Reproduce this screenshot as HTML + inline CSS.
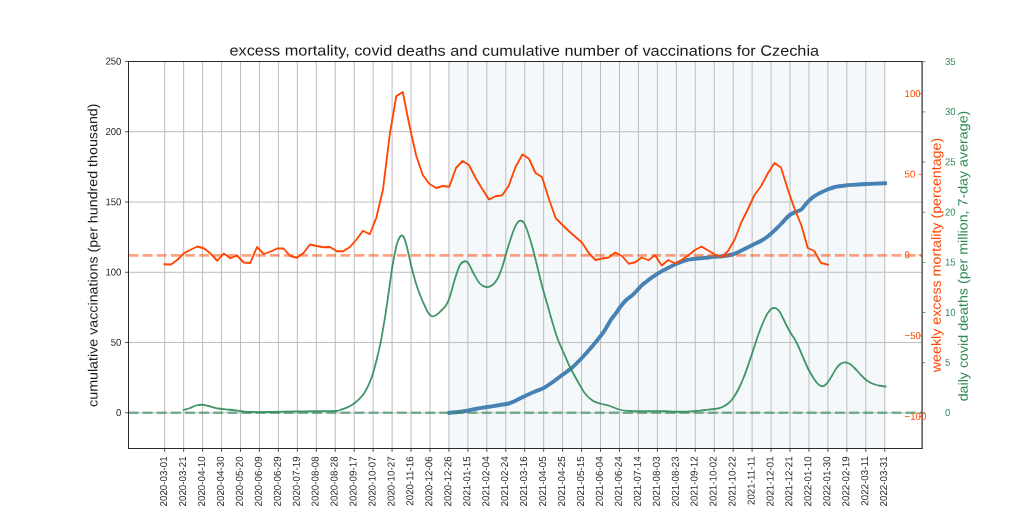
<!DOCTYPE html>
<html><head><meta charset="utf-8"><title>excess mortality, covid deaths and cumulative number of vaccinations for Czechia</title>
<style>html,body{margin:0;padding:0;background:#fff;}body{width:1024px;height:512px;overflow:hidden;font-family:"Liberation Sans",sans-serif;}svg{display:block;}text{font-family:"Liberation Sans",sans-serif;}</style></head><body>
<svg style="will-change:transform" width="1024" height="512" viewBox="0 0 1024 512">
<rect x="0" y="0" width="1024" height="512" fill="#ffffff"/>
<rect x="448.94" y="61.50" width="435.83" height="387.00" fill="#4682b4" fill-opacity="0.055"/>
<g stroke="#bcbcbc" stroke-width="1.00" fill="none">
<line x1="164.70" y1="61.50" x2="164.70" y2="448.50"/>
<line x1="183.65" y1="61.50" x2="183.65" y2="448.50"/>
<line x1="202.60" y1="61.50" x2="202.60" y2="448.50"/>
<line x1="221.55" y1="61.50" x2="221.55" y2="448.50"/>
<line x1="240.50" y1="61.50" x2="240.50" y2="448.50"/>
<line x1="259.44" y1="61.50" x2="259.44" y2="448.50"/>
<line x1="278.39" y1="61.50" x2="278.39" y2="448.50"/>
<line x1="297.34" y1="61.50" x2="297.34" y2="448.50"/>
<line x1="316.29" y1="61.50" x2="316.29" y2="448.50"/>
<line x1="335.24" y1="61.50" x2="335.24" y2="448.50"/>
<line x1="354.19" y1="61.50" x2="354.19" y2="448.50"/>
<line x1="373.14" y1="61.50" x2="373.14" y2="448.50"/>
<line x1="392.09" y1="61.50" x2="392.09" y2="448.50"/>
<line x1="411.04" y1="61.50" x2="411.04" y2="448.50"/>
<line x1="429.99" y1="61.50" x2="429.99" y2="448.50"/>
<line x1="448.94" y1="61.50" x2="448.94" y2="448.50"/>
<line x1="467.88" y1="61.50" x2="467.88" y2="448.50"/>
<line x1="486.83" y1="61.50" x2="486.83" y2="448.50"/>
<line x1="505.78" y1="61.50" x2="505.78" y2="448.50"/>
<line x1="524.73" y1="61.50" x2="524.73" y2="448.50"/>
<line x1="543.68" y1="61.50" x2="543.68" y2="448.50"/>
<line x1="562.63" y1="61.50" x2="562.63" y2="448.50"/>
<line x1="581.58" y1="61.50" x2="581.58" y2="448.50"/>
<line x1="600.53" y1="61.50" x2="600.53" y2="448.50"/>
<line x1="619.48" y1="61.50" x2="619.48" y2="448.50"/>
<line x1="638.42" y1="61.50" x2="638.42" y2="448.50"/>
<line x1="657.37" y1="61.50" x2="657.37" y2="448.50"/>
<line x1="676.32" y1="61.50" x2="676.32" y2="448.50"/>
<line x1="695.27" y1="61.50" x2="695.27" y2="448.50"/>
<line x1="714.22" y1="61.50" x2="714.22" y2="448.50"/>
<line x1="733.17" y1="61.50" x2="733.17" y2="448.50"/>
<line x1="752.12" y1="61.50" x2="752.12" y2="448.50"/>
<line x1="771.07" y1="61.50" x2="771.07" y2="448.50"/>
<line x1="790.02" y1="61.50" x2="790.02" y2="448.50"/>
<line x1="808.97" y1="61.50" x2="808.97" y2="448.50"/>
<line x1="827.91" y1="61.50" x2="827.91" y2="448.50"/>
<line x1="846.86" y1="61.50" x2="846.86" y2="448.50"/>
<line x1="865.81" y1="61.50" x2="865.81" y2="448.50"/>
<line x1="884.76" y1="61.50" x2="884.76" y2="448.50"/>
<line x1="128.50" y1="412.82" x2="922.10" y2="412.82"/>
<line x1="128.50" y1="342.55" x2="922.10" y2="342.55"/>
<line x1="128.50" y1="272.27" x2="922.10" y2="272.27"/>
<line x1="128.50" y1="202.00" x2="922.10" y2="202.00"/>
<line x1="128.50" y1="131.73" x2="922.10" y2="131.73"/>
</g>
<defs><clipPath id="ax"><rect x="128.50" y="61.50" width="793.60" height="387.00"/></clipPath></defs>
<g clip-path="url(#ax)" fill="none">
<path d="M449.50,412.75 C451.67,412.54 458.25,412.12 462.50,411.50 C466.75,410.88 470.83,409.75 475.00,409.00 C479.17,408.25 483.33,407.67 487.50,407.00 C491.67,406.33 496.46,405.58 500.00,405.00 C503.54,404.42 506.25,404.17 508.75,403.50 C511.25,402.83 512.29,402.25 515.00,401.00 C517.71,399.75 521.67,397.58 525.00,396.00 C528.33,394.42 531.88,392.83 535.00,391.50 C538.12,390.17 540.83,389.54 543.75,388.00 C546.67,386.46 549.38,384.46 552.50,382.25 C555.62,380.04 559.17,377.25 562.50,374.75 C565.83,372.25 569.17,370.17 572.50,367.25 C575.83,364.33 579.17,360.79 582.50,357.25 C585.83,353.71 589.17,349.96 592.50,346.00 C595.83,342.04 600.23,336.50 602.50,333.50 C604.77,330.50 604.73,330.23 606.10,328.00 C607.47,325.77 608.98,322.67 610.70,320.10 C612.42,317.53 614.68,314.95 616.40,312.60 C618.12,310.25 619.28,308.18 621.00,306.00 C622.72,303.82 624.82,301.28 626.70,299.50 C628.58,297.72 630.58,296.80 632.30,295.30 C634.02,293.80 635.43,292.15 637.00,290.50 C638.57,288.85 640.15,286.87 641.70,285.40 C643.25,283.93 644.58,283.03 646.30,281.70 C648.02,280.37 650.12,278.75 652.00,277.40 C653.88,276.05 655.73,274.77 657.60,273.60 C659.47,272.43 661.33,271.40 663.20,270.40 C665.07,269.40 666.77,268.63 668.80,267.60 C670.83,266.57 673.20,265.20 675.40,264.20 C677.60,263.20 679.82,262.35 682.00,261.60 C684.18,260.85 686.32,260.17 688.50,259.70 C690.68,259.23 692.45,259.10 695.10,258.80 C697.75,258.50 701.28,258.22 704.40,257.90 C707.52,257.58 710.87,257.18 713.80,256.90 C716.73,256.62 718.88,256.60 722.00,256.20 C725.12,255.80 729.50,255.32 732.50,254.50 C735.50,253.68 737.50,252.42 740.00,251.25 C742.50,250.08 745.00,248.75 747.50,247.50 C750.00,246.25 752.71,244.88 755.00,243.75 C757.29,242.62 759.08,242.00 761.25,240.75 C763.42,239.50 765.71,238.04 768.00,236.25 C770.29,234.46 772.79,232.08 775.00,230.00 C777.21,227.92 779.17,225.92 781.25,223.75 C783.33,221.58 785.83,218.62 787.50,217.00 C789.17,215.38 789.92,214.83 791.25,214.00 C792.58,213.17 793.83,212.75 795.50,212.00 C797.17,211.25 799.67,210.67 801.25,209.50 C802.83,208.33 803.12,207.00 805.00,205.00 C806.88,203.00 810.00,199.50 812.50,197.50 C815.00,195.50 817.50,194.33 820.00,193.00 C822.50,191.67 825.00,190.50 827.50,189.50 C830.00,188.50 832.08,187.67 835.00,187.00 C837.92,186.33 841.67,185.88 845.00,185.50 C848.33,185.12 851.25,185.00 855.00,184.75 C858.75,184.50 862.50,184.25 867.50,184.00 C872.50,183.75 882.08,183.38 885.00,183.25" stroke="#4682b4" stroke-width="3.9" stroke-linejoin="round" stroke-linecap="square"/>
<path d="M164.50,264.25 L171.00,264.50 L177.75,259.50 L184.25,253.00 L191.00,249.50 L197.50,246.50 L204.25,248.50 L210.75,253.75 L217.25,260.75 L223.75,253.50 L230.50,258.25 L237.00,255.50 L243.75,262.50 L250.25,263.00 L257.00,247.00 L263.75,254.00 L270.25,251.75 L277.00,248.50 L283.50,248.50 L290.25,256.00 L296.75,257.75 L303.50,253.00 L310.00,244.50 L316.75,246.00 L323.25,247.25 L330.00,247.00 L336.75,251.25 L343.25,251.25 L350.00,247.00 L356.50,239.50 L363.00,230.75 L369.75,234.25 L376.25,218.00 L383.00,189.50 L389.75,134.50 L396.25,96.25 L402.75,92.00 L409.50,125.75 L416.25,155.75 L422.75,175.00 L429.50,184.00 L436.25,188.00 L442.75,186.00 L449.25,186.75 L456.00,168.00 L462.50,161.00 L469.00,165.00 L475.75,178.25 L482.25,189.00 L489.00,199.50 L495.50,196.25 L502.25,195.25 L508.75,185.75 L515.50,167.00 L522.50,154.50 L529.00,158.75 L535.50,173.00 L542.00,177.00 L549.25,200.00 L555.75,218.25 L562.50,225.00 L569.00,231.25 L575.50,237.00 L582.00,242.50 L588.75,253.00 L595.50,260.00 L602.00,258.50 L608.75,257.50 L615.25,252.50 L622.00,256.00 L628.75,263.75 L635.25,262.25 L641.75,257.50 L648.50,260.25 L655.00,255.25 L661.75,265.50 L668.25,260.00 L675.00,263.50 L681.50,260.00 L688.25,255.50 L695.00,250.00 L701.50,246.50 L708.25,250.50 L714.75,254.50 L721.50,257.00 L728.00,251.00 L734.50,240.00 L741.25,222.50 L747.75,209.50 L754.50,195.00 L761.00,186.25 L767.75,173.50 L774.50,163.10 L781.00,167.50 L788.00,190.00 L794.50,208.75 L801.25,225.00 L807.75,248.00 L814.25,251.00 L821.00,263.00 L828.00,264.75" stroke="#ff4500" stroke-width="1.85" stroke-linejoin="round" stroke-linecap="square"/>
<line x1="128.50" y1="255.35" x2="922.10" y2="255.35" stroke="#ff4500" stroke-opacity="0.5" stroke-width="2.7" stroke-dasharray="9.87 4.26"/>
<path d="M183.75,410.00 C184.79,409.67 187.92,408.75 190.00,408.00 C192.08,407.25 194.25,406.04 196.25,405.50 C198.25,404.96 200.12,404.71 202.00,404.75 C203.88,404.79 205.54,405.29 207.50,405.75 C209.46,406.21 211.67,407.00 213.75,407.50 C215.83,408.00 217.29,408.38 220.00,408.75 C222.71,409.12 226.67,409.38 230.00,409.75 C233.33,410.12 236.67,410.62 240.00,411.00 C243.33,411.38 245.00,411.83 250.00,412.00 C255.00,412.17 262.50,412.08 270.00,412.00 C277.50,411.92 286.67,411.62 295.00,411.50 C303.33,411.38 313.17,411.33 320.00,411.25 C326.83,411.17 332.55,411.25 336.00,411.00 C339.45,410.75 339.13,410.22 340.70,409.75 C342.27,409.28 343.83,408.82 345.40,408.20 C346.97,407.57 348.60,406.83 350.10,406.00 C351.60,405.17 352.85,404.40 354.40,403.20 C355.95,402.00 357.72,400.53 359.40,398.80 C361.08,397.07 362.83,395.42 364.50,392.80 C366.17,390.18 368.00,386.28 369.40,383.10 C370.80,379.92 371.93,376.63 372.90,373.70 C373.87,370.77 374.43,368.42 375.20,365.50 C375.97,362.58 376.60,360.02 377.50,356.20 C378.40,352.38 379.62,347.48 380.60,342.60 C381.58,337.72 382.55,331.87 383.40,326.90 C384.25,321.93 384.92,317.88 385.70,312.80 C386.48,307.72 387.33,301.70 388.10,296.40 C388.87,291.10 389.65,285.61 390.30,281.00 C390.95,276.39 391.30,273.08 392.00,268.75 C392.70,264.42 393.67,259.17 394.50,255.00 C395.33,250.83 396.17,246.67 397.00,243.75 C397.83,240.83 398.75,238.88 399.50,237.50 C400.25,236.12 400.79,235.58 401.50,235.50 C402.21,235.42 403.04,235.83 403.75,237.00 C404.46,238.17 405.00,239.92 405.75,242.50 C406.50,245.08 407.42,248.96 408.25,252.50 C409.08,256.04 409.92,260.21 410.75,263.75 C411.58,267.29 412.38,270.46 413.25,273.75 C414.12,277.04 414.96,280.21 416.00,283.50 C417.04,286.79 418.33,290.42 419.50,293.50 C420.67,296.58 421.58,298.83 423.00,302.00 C424.42,305.17 426.50,310.12 428.00,312.50 C429.50,314.88 430.62,315.83 432.00,316.25 C433.38,316.67 434.71,315.96 436.25,315.00 C437.79,314.04 439.58,312.17 441.25,310.50 C442.92,308.83 444.79,307.38 446.25,305.00 C447.71,302.62 448.54,300.62 450.00,296.25 C451.46,291.88 453.33,283.96 455.00,278.75 C456.67,273.54 458.33,267.92 460.00,265.00 C461.67,262.08 463.54,261.46 465.00,261.25 C466.46,261.04 467.29,261.67 468.75,263.75 C470.21,265.83 471.88,270.42 473.75,273.75 C475.62,277.08 477.92,281.54 480.00,283.75 C482.08,285.96 484.17,286.79 486.25,287.00 C488.33,287.21 490.62,286.38 492.50,285.00 C494.38,283.62 495.83,281.88 497.50,278.75 C499.17,275.62 500.83,271.25 502.50,266.25 C504.17,261.25 505.62,254.79 507.50,248.75 C509.38,242.71 512.08,234.38 513.75,230.00 C515.42,225.62 516.33,224.04 517.50,222.50 C518.67,220.96 519.71,220.75 520.75,220.75 C521.79,220.75 522.62,220.75 523.75,222.50 C524.88,224.25 526.04,227.08 527.50,231.25 C528.96,235.42 530.83,241.46 532.50,247.50 C534.17,253.54 535.83,260.83 537.50,267.50 C539.17,274.17 540.83,281.25 542.50,287.50 C544.17,293.75 545.83,299.17 547.50,305.00 C549.17,310.83 550.83,316.92 552.50,322.50 C554.17,328.08 555.42,332.92 557.50,338.50 C559.58,344.08 562.92,351.21 565.00,356.00 C567.08,360.79 567.92,363.08 570.00,367.25 C572.08,371.42 575.00,376.62 577.50,381.00 C580.00,385.38 582.50,390.25 585.00,393.50 C587.50,396.75 590.00,398.83 592.50,400.50 C595.00,402.17 597.08,402.58 600.00,403.50 C602.92,404.42 606.67,404.96 610.00,406.00 C613.33,407.04 616.67,408.92 620.00,409.75 C623.33,410.58 626.67,410.75 630.00,411.00 C633.33,411.25 634.17,411.21 640.00,411.25 C645.83,411.29 658.33,411.17 665.00,411.25 C671.67,411.33 675.00,411.79 680.00,411.75 C685.00,411.71 690.83,411.29 695.00,411.00 C699.17,410.71 701.67,410.33 705.00,410.00 C708.33,409.67 712.08,409.50 715.00,409.00 C717.92,408.50 720.21,408.00 722.50,407.00 C724.79,406.00 726.88,404.62 728.75,403.00 C730.62,401.38 732.08,399.67 733.75,397.25 C735.42,394.83 737.08,391.83 738.75,388.50 C740.42,385.17 742.08,381.42 743.75,377.25 C745.42,373.08 747.08,368.29 748.75,363.50 C750.42,358.71 752.08,353.50 753.75,348.50 C755.42,343.50 757.08,338.08 758.75,333.50 C760.42,328.92 762.29,324.33 763.75,321.00 C765.21,317.67 766.25,315.50 767.50,313.50 C768.75,311.50 770.21,309.92 771.25,309.00 C772.29,308.08 772.92,308.08 773.75,308.00 C774.58,307.92 775.21,307.79 776.25,308.50 C777.29,309.21 778.75,310.38 780.00,312.25 C781.25,314.12 782.50,317.25 783.75,319.75 C785.00,322.25 786.25,324.88 787.50,327.25 C788.75,329.62 790.00,331.92 791.25,334.00 C792.50,336.08 793.75,337.54 795.00,339.75 C796.25,341.96 797.50,344.54 798.75,347.25 C800.00,349.96 801.25,353.08 802.50,356.00 C803.75,358.92 805.00,362.04 806.25,364.75 C807.50,367.46 808.75,369.96 810.00,372.25 C811.25,374.54 812.50,376.62 813.75,378.50 C815.00,380.38 816.46,382.33 817.50,383.50 C818.54,384.67 819.17,385.04 820.00,385.50 C820.83,385.96 821.67,386.29 822.50,386.25 C823.33,386.21 823.96,386.12 825.00,385.25 C826.04,384.38 827.50,382.75 828.75,381.00 C830.00,379.25 831.25,376.83 832.50,374.75 C833.75,372.67 835.00,370.25 836.25,368.50 C837.50,366.75 838.75,365.25 840.00,364.25 C841.25,363.25 842.71,362.79 843.75,362.50 C844.79,362.21 845.21,362.25 846.25,362.50 C847.29,362.75 848.54,363.00 850.00,364.00 C851.46,365.00 853.33,366.83 855.00,368.50 C856.67,370.17 858.33,372.25 860.00,374.00 C861.67,375.75 863.33,377.58 865.00,379.00 C866.67,380.42 868.33,381.58 870.00,382.50 C871.67,383.42 873.33,383.96 875.00,384.50 C876.67,385.04 878.25,385.42 880.00,385.75 C881.75,386.08 884.58,386.38 885.50,386.50" stroke="#2e8b57" stroke-opacity="0.9" stroke-width="1.8" stroke-linejoin="round" stroke-linecap="square"/>
<line x1="128.50" y1="412.70" x2="922.10" y2="412.70" stroke="#2e8b57" stroke-opacity="0.6" stroke-width="2.6" stroke-dasharray="9.87 4.26"/>
</g>
<g stroke="#2a2a2a" stroke-width="1" stroke-linecap="square" fill="none">
<line x1="128.50" y1="61.50" x2="128.50" y2="448.50"/>
<line x1="128.50" y1="61.50" x2="922.10" y2="61.50"/>
<line x1="128.50" y1="448.50" x2="922.10" y2="448.50"/>
<line x1="922.10" y1="61.50" x2="922.10" y2="448.50" stroke-width="1.2"/>
</g>
<g stroke="#262626" stroke-width="0.8">
<line x1="164.70" y1="448.50" x2="164.70" y2="451.90"/>
<line x1="183.65" y1="448.50" x2="183.65" y2="451.90"/>
<line x1="202.60" y1="448.50" x2="202.60" y2="451.90"/>
<line x1="221.55" y1="448.50" x2="221.55" y2="451.90"/>
<line x1="240.50" y1="448.50" x2="240.50" y2="451.90"/>
<line x1="259.44" y1="448.50" x2="259.44" y2="451.90"/>
<line x1="278.39" y1="448.50" x2="278.39" y2="451.90"/>
<line x1="297.34" y1="448.50" x2="297.34" y2="451.90"/>
<line x1="316.29" y1="448.50" x2="316.29" y2="451.90"/>
<line x1="335.24" y1="448.50" x2="335.24" y2="451.90"/>
<line x1="354.19" y1="448.50" x2="354.19" y2="451.90"/>
<line x1="373.14" y1="448.50" x2="373.14" y2="451.90"/>
<line x1="392.09" y1="448.50" x2="392.09" y2="451.90"/>
<line x1="411.04" y1="448.50" x2="411.04" y2="451.90"/>
<line x1="429.99" y1="448.50" x2="429.99" y2="451.90"/>
<line x1="448.94" y1="448.50" x2="448.94" y2="451.90"/>
<line x1="467.88" y1="448.50" x2="467.88" y2="451.90"/>
<line x1="486.83" y1="448.50" x2="486.83" y2="451.90"/>
<line x1="505.78" y1="448.50" x2="505.78" y2="451.90"/>
<line x1="524.73" y1="448.50" x2="524.73" y2="451.90"/>
<line x1="543.68" y1="448.50" x2="543.68" y2="451.90"/>
<line x1="562.63" y1="448.50" x2="562.63" y2="451.90"/>
<line x1="581.58" y1="448.50" x2="581.58" y2="451.90"/>
<line x1="600.53" y1="448.50" x2="600.53" y2="451.90"/>
<line x1="619.48" y1="448.50" x2="619.48" y2="451.90"/>
<line x1="638.42" y1="448.50" x2="638.42" y2="451.90"/>
<line x1="657.37" y1="448.50" x2="657.37" y2="451.90"/>
<line x1="676.32" y1="448.50" x2="676.32" y2="451.90"/>
<line x1="695.27" y1="448.50" x2="695.27" y2="451.90"/>
<line x1="714.22" y1="448.50" x2="714.22" y2="451.90"/>
<line x1="733.17" y1="448.50" x2="733.17" y2="451.90"/>
<line x1="752.12" y1="448.50" x2="752.12" y2="451.90"/>
<line x1="771.07" y1="448.50" x2="771.07" y2="451.90"/>
<line x1="790.02" y1="448.50" x2="790.02" y2="451.90"/>
<line x1="808.97" y1="448.50" x2="808.97" y2="451.90"/>
<line x1="827.91" y1="448.50" x2="827.91" y2="451.90"/>
<line x1="846.86" y1="448.50" x2="846.86" y2="451.90"/>
<line x1="865.81" y1="448.50" x2="865.81" y2="451.90"/>
<line x1="884.76" y1="448.50" x2="884.76" y2="451.90"/>
<line x1="125.10" y1="412.82" x2="128.50" y2="412.82"/>
<line x1="125.10" y1="342.55" x2="128.50" y2="342.55"/>
<line x1="125.10" y1="272.27" x2="128.50" y2="272.27"/>
<line x1="125.10" y1="202.00" x2="128.50" y2="202.00"/>
<line x1="125.10" y1="131.73" x2="128.50" y2="131.73"/>
<line x1="125.10" y1="61.45" x2="128.50" y2="61.45"/>
</g>
<g stroke="#ff4500" stroke-width="0.8">
<line x1="918.70" y1="416.50" x2="922.10" y2="416.50"/>
<line x1="918.70" y1="335.80" x2="922.10" y2="335.80"/>
<line x1="918.70" y1="255.10" x2="922.10" y2="255.10"/>
<line x1="918.70" y1="174.40" x2="922.10" y2="174.40"/>
<line x1="918.70" y1="93.70" x2="922.10" y2="93.70"/>
</g>
<g stroke="#2e8b57" stroke-width="0.8">
<line x1="922.10" y1="412.80" x2="925.50" y2="412.80"/>
<line x1="922.10" y1="362.65" x2="925.50" y2="362.65"/>
<line x1="922.10" y1="312.50" x2="925.50" y2="312.50"/>
<line x1="922.10" y1="262.35" x2="925.50" y2="262.35"/>
<line x1="922.10" y1="212.20" x2="925.50" y2="212.20"/>
<line x1="922.10" y1="162.05" x2="925.50" y2="162.05"/>
<line x1="922.10" y1="111.90" x2="925.50" y2="111.90"/>
<line x1="922.10" y1="61.75" x2="925.50" y2="61.75"/>
</g>
<text transform="translate(121.40,416.00) rotate(0.04) scale(0.960,1)" font-size="10.00" text-anchor="end" fill="#262626">0</text>
<text transform="translate(121.40,345.73) rotate(0.04) scale(0.960,1)" font-size="10.00" text-anchor="end" fill="#262626">50</text>
<text transform="translate(121.40,275.45) rotate(0.04) scale(0.960,1)" font-size="10.00" text-anchor="end" fill="#262626">100</text>
<text transform="translate(121.40,205.18) rotate(0.04) scale(0.960,1)" font-size="10.00" text-anchor="end" fill="#262626">150</text>
<text transform="translate(121.40,134.91) rotate(0.04) scale(0.960,1)" font-size="10.00" text-anchor="end" fill="#262626">200</text>
<text transform="translate(121.40,64.63) rotate(0.04) scale(0.960,1)" font-size="10.00" text-anchor="end" fill="#262626">250</text>
<text transform="translate(904.60,419.68) rotate(0.04) scale(0.960,1)" font-size="10.00" text-anchor="start" fill="#ff4500">−100</text>
<text transform="translate(904.60,338.98) rotate(0.04) scale(0.960,1)" font-size="10.00" text-anchor="start" fill="#ff4500">−50</text>
<text transform="translate(904.60,258.28) rotate(0.04) scale(0.960,1)" font-size="10.00" text-anchor="start" fill="#ff4500">0</text>
<text transform="translate(904.60,177.58) rotate(0.04) scale(0.960,1)" font-size="10.00" text-anchor="start" fill="#ff4500">50</text>
<text transform="translate(904.60,96.88) rotate(0.04) scale(0.960,1)" font-size="10.00" text-anchor="start" fill="#ff4500">100</text>
<text transform="translate(945.00,415.98) rotate(0.04) scale(0.960,1)" font-size="10.00" text-anchor="start" fill="#2e8b57">0</text>
<text transform="translate(945.00,365.83) rotate(0.04) scale(0.960,1)" font-size="10.00" text-anchor="start" fill="#2e8b57">5</text>
<text transform="translate(945.00,315.68) rotate(0.04) scale(0.960,1)" font-size="10.00" text-anchor="start" fill="#2e8b57">10</text>
<text transform="translate(945.00,265.53) rotate(0.04) scale(0.960,1)" font-size="10.00" text-anchor="start" fill="#2e8b57">15</text>
<text transform="translate(945.00,215.38) rotate(0.04) scale(0.960,1)" font-size="10.00" text-anchor="start" fill="#2e8b57">20</text>
<text transform="translate(945.00,165.23) rotate(0.04) scale(0.960,1)" font-size="10.00" text-anchor="start" fill="#2e8b57">25</text>
<text transform="translate(945.00,115.08) rotate(0.04) scale(0.960,1)" font-size="10.00" text-anchor="start" fill="#2e8b57">30</text>
<text transform="translate(945.00,64.93) rotate(0.04) scale(0.960,1)" font-size="10.00" text-anchor="start" fill="#2e8b57">35</text>
<text transform="translate(167.00,456.40) rotate(-90.04) scale(0.980,1)" font-size="10.00" text-anchor="end" fill="#262626">2020-03-01</text>
<text transform="translate(185.95,456.40) rotate(-90.04) scale(0.980,1)" font-size="10.00" text-anchor="end" fill="#262626">2020-03-21</text>
<text transform="translate(204.90,456.40) rotate(-90.04) scale(0.980,1)" font-size="10.00" text-anchor="end" fill="#262626">2020-04-10</text>
<text transform="translate(223.85,456.40) rotate(-90.04) scale(0.980,1)" font-size="10.00" text-anchor="end" fill="#262626">2020-04-30</text>
<text transform="translate(242.80,456.40) rotate(-90.04) scale(0.980,1)" font-size="10.00" text-anchor="end" fill="#262626">2020-05-20</text>
<text transform="translate(261.75,456.40) rotate(-90.04) scale(0.980,1)" font-size="10.00" text-anchor="end" fill="#262626">2020-06-09</text>
<text transform="translate(280.69,456.40) rotate(-90.04) scale(0.980,1)" font-size="10.00" text-anchor="end" fill="#262626">2020-06-29</text>
<text transform="translate(299.64,456.40) rotate(-90.04) scale(0.980,1)" font-size="10.00" text-anchor="end" fill="#262626">2020-07-19</text>
<text transform="translate(318.59,456.40) rotate(-90.04) scale(0.980,1)" font-size="10.00" text-anchor="end" fill="#262626">2020-08-08</text>
<text transform="translate(337.54,456.40) rotate(-90.04) scale(0.980,1)" font-size="10.00" text-anchor="end" fill="#262626">2020-08-28</text>
<text transform="translate(356.49,456.40) rotate(-90.04) scale(0.980,1)" font-size="10.00" text-anchor="end" fill="#262626">2020-09-17</text>
<text transform="translate(375.44,456.40) rotate(-90.04) scale(0.980,1)" font-size="10.00" text-anchor="end" fill="#262626">2020-10-07</text>
<text transform="translate(394.39,456.40) rotate(-90.04) scale(0.980,1)" font-size="10.00" text-anchor="end" fill="#262626">2020-10-27</text>
<text transform="translate(413.34,456.40) rotate(-90.04) scale(0.980,1)" font-size="10.00" text-anchor="end" fill="#262626">2020-11-16</text>
<text transform="translate(432.29,456.40) rotate(-90.04) scale(0.980,1)" font-size="10.00" text-anchor="end" fill="#262626">2020-12-06</text>
<text transform="translate(451.24,456.40) rotate(-90.04) scale(0.980,1)" font-size="10.00" text-anchor="end" fill="#262626">2020-12-26</text>
<text transform="translate(470.18,456.40) rotate(-90.04) scale(0.980,1)" font-size="10.00" text-anchor="end" fill="#262626">2021-01-15</text>
<text transform="translate(489.13,456.40) rotate(-90.04) scale(0.980,1)" font-size="10.00" text-anchor="end" fill="#262626">2021-02-04</text>
<text transform="translate(508.08,456.40) rotate(-90.04) scale(0.980,1)" font-size="10.00" text-anchor="end" fill="#262626">2021-02-24</text>
<text transform="translate(527.03,456.40) rotate(-90.04) scale(0.980,1)" font-size="10.00" text-anchor="end" fill="#262626">2021-03-16</text>
<text transform="translate(545.98,456.40) rotate(-90.04) scale(0.980,1)" font-size="10.00" text-anchor="end" fill="#262626">2021-04-05</text>
<text transform="translate(564.93,456.40) rotate(-90.04) scale(0.980,1)" font-size="10.00" text-anchor="end" fill="#262626">2021-04-25</text>
<text transform="translate(583.88,456.40) rotate(-90.04) scale(0.980,1)" font-size="10.00" text-anchor="end" fill="#262626">2021-05-15</text>
<text transform="translate(602.83,456.40) rotate(-90.04) scale(0.980,1)" font-size="10.00" text-anchor="end" fill="#262626">2021-06-04</text>
<text transform="translate(621.78,456.40) rotate(-90.04) scale(0.980,1)" font-size="10.00" text-anchor="end" fill="#262626">2021-06-24</text>
<text transform="translate(640.72,456.40) rotate(-90.04) scale(0.980,1)" font-size="10.00" text-anchor="end" fill="#262626">2021-07-14</text>
<text transform="translate(659.67,456.40) rotate(-90.04) scale(0.980,1)" font-size="10.00" text-anchor="end" fill="#262626">2021-08-03</text>
<text transform="translate(678.62,456.40) rotate(-90.04) scale(0.980,1)" font-size="10.00" text-anchor="end" fill="#262626">2021-08-23</text>
<text transform="translate(697.57,456.40) rotate(-90.04) scale(0.980,1)" font-size="10.00" text-anchor="end" fill="#262626">2021-09-12</text>
<text transform="translate(716.52,456.40) rotate(-90.04) scale(0.980,1)" font-size="10.00" text-anchor="end" fill="#262626">2021-10-02</text>
<text transform="translate(735.47,456.40) rotate(-90.04) scale(0.980,1)" font-size="10.00" text-anchor="end" fill="#262626">2021-10-22</text>
<text transform="translate(754.42,456.40) rotate(-90.04) scale(0.980,1)" font-size="10.00" text-anchor="end" fill="#262626">2021-11-11</text>
<text transform="translate(773.37,456.40) rotate(-90.04) scale(0.980,1)" font-size="10.00" text-anchor="end" fill="#262626">2021-12-01</text>
<text transform="translate(792.32,456.40) rotate(-90.04) scale(0.980,1)" font-size="10.00" text-anchor="end" fill="#262626">2021-12-21</text>
<text transform="translate(811.27,456.40) rotate(-90.04) scale(0.980,1)" font-size="10.00" text-anchor="end" fill="#262626">2022-01-10</text>
<text transform="translate(830.21,456.40) rotate(-90.04) scale(0.980,1)" font-size="10.00" text-anchor="end" fill="#262626">2022-01-30</text>
<text transform="translate(849.16,456.40) rotate(-90.04) scale(0.980,1)" font-size="10.00" text-anchor="end" fill="#262626">2022-02-19</text>
<text transform="translate(868.11,456.40) rotate(-90.04) scale(0.980,1)" font-size="10.00" text-anchor="end" fill="#262626">2022-03-11</text>
<text transform="translate(887.06,456.40) rotate(-90.04) scale(0.980,1)" font-size="10.00" text-anchor="end" fill="#262626">2022-03-31</text>
<text transform="translate(524.30,55.70) rotate(0.03) scale(1.0885,1)" font-size="15" text-anchor="middle" fill="#1a1a1a">excess mortality, covid deaths and cumulative number of vaccinations for Czechia</text>
<text transform="translate(97.40,255.20) rotate(-90.03) scale(1.0640,1)" font-size="13.40" text-anchor="middle" fill="#1a1a1a">cumulative vaccinations (per hundred thousand)</text>
<text transform="translate(940.70,255.00) rotate(-90.03) scale(1.0640,1)" font-size="13.40" text-anchor="middle" fill="#ff4500">weekly excess mortality (percentage)</text>
<text transform="translate(967.60,256.00) rotate(-90.03) scale(1.0640,1)" font-size="13.40" text-anchor="middle" fill="#2e8b57">daily covid deaths (per million, 7-day average)</text>
</svg></body></html>
